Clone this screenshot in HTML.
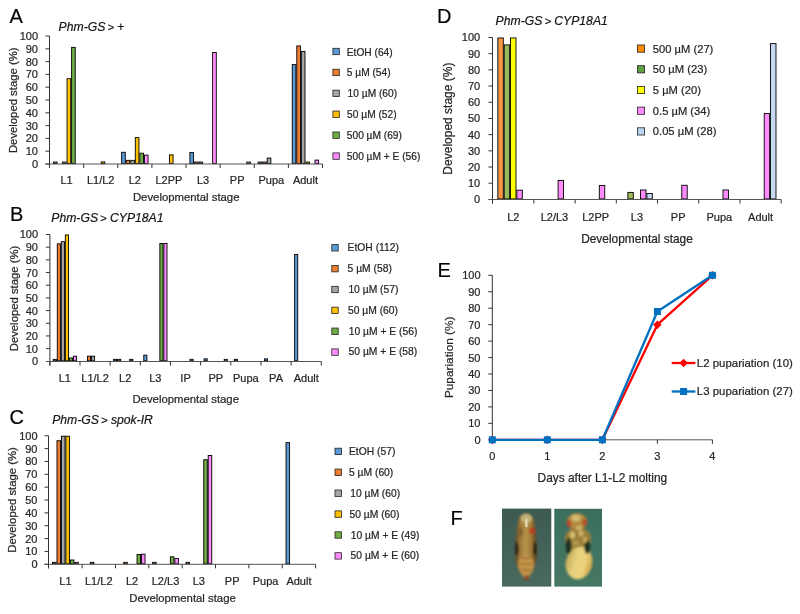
<!DOCTYPE html>
<html><head><meta charset="utf-8"><style>
html,body{margin:0;padding:0;background:#fff;}
svg{display:block;font-family:"Liberation Sans", sans-serif;filter:blur(0.3px);}
text{stroke:#262626;stroke-width:0.22px;}
</style></head><body>
<svg width="800" height="614" viewBox="0 0 800 614">
<rect width="800" height="614" fill="#fff"/>
<text x="9.50" y="23.00" font-size="20" text-anchor="start" fill="#000" >A</text>
<text x="58.6" y="30.8" font-size="12.2" fill="#111"><tspan font-style="italic">Phm-GS</tspan><tspan dx="-0.8" font-size="11.2"> &gt; </tspan>+</text>
<rect x="53.41" y="162.05" width="3.65" height="1.50" fill="#5B9BD5" stroke="#000" stroke-width="0.9"/>
<rect x="62.51" y="162.05" width="3.65" height="1.50" fill="#A5A5A5" stroke="#000" stroke-width="0.9"/>
<rect x="67.06" y="78.69" width="3.65" height="84.86" fill="#FFC000" stroke="#000" stroke-width="0.9"/>
<rect x="71.61" y="47.33" width="3.65" height="116.22" fill="#70AD47" stroke="#000" stroke-width="0.9"/>
<rect x="101.18" y="161.89" width="3.65" height="1.66" fill="#FFC000" stroke="#000" stroke-width="0.9"/>
<rect x="121.65" y="152.29" width="3.65" height="11.26" fill="#5B9BD5" stroke="#000" stroke-width="0.9"/>
<rect x="126.20" y="160.35" width="3.65" height="3.20" fill="#ED7D31" stroke="#000" stroke-width="0.9"/>
<rect x="130.75" y="160.35" width="3.65" height="3.20" fill="#A5A5A5" stroke="#000" stroke-width="0.9"/>
<rect x="135.30" y="137.57" width="3.65" height="25.98" fill="#FFC000" stroke="#000" stroke-width="0.9"/>
<rect x="139.85" y="153.19" width="3.65" height="10.36" fill="#70AD47" stroke="#000" stroke-width="0.9"/>
<rect x="144.40" y="155.11" width="3.65" height="8.44" fill="#FF8CFF" stroke="#000" stroke-width="0.9"/>
<rect x="169.42" y="154.85" width="3.65" height="8.70" fill="#FFC000" stroke="#000" stroke-width="0.9"/>
<rect x="189.89" y="152.42" width="3.65" height="11.13" fill="#5B9BD5" stroke="#000" stroke-width="0.9"/>
<rect x="194.44" y="162.05" width="3.65" height="1.50" fill="#ED7D31" stroke="#000" stroke-width="0.9"/>
<rect x="198.99" y="162.05" width="3.65" height="1.50" fill="#A5A5A5" stroke="#000" stroke-width="0.9"/>
<rect x="212.63" y="52.45" width="3.65" height="111.10" fill="#FF8CFF" stroke="#000" stroke-width="0.9"/>
<rect x="246.75" y="162.05" width="3.65" height="1.50" fill="#FF8CFF" stroke="#000" stroke-width="0.9"/>
<rect x="258.12" y="162.05" width="3.65" height="1.50" fill="#5B9BD5" stroke="#000" stroke-width="0.9"/>
<rect x="262.67" y="162.05" width="3.65" height="1.50" fill="#ED7D31" stroke="#000" stroke-width="0.9"/>
<rect x="267.22" y="158.05" width="3.65" height="5.50" fill="#A5A5A5" stroke="#000" stroke-width="0.9"/>
<rect x="292.24" y="64.61" width="3.65" height="98.94" fill="#5B9BD5" stroke="#000" stroke-width="0.9"/>
<rect x="296.79" y="45.92" width="3.65" height="117.63" fill="#ED7D31" stroke="#000" stroke-width="0.9"/>
<rect x="301.34" y="51.43" width="3.65" height="112.12" fill="#A5A5A5" stroke="#000" stroke-width="0.9"/>
<rect x="305.89" y="162.05" width="3.65" height="1.50" fill="#FFC000" stroke="#000" stroke-width="0.9"/>
<rect x="314.99" y="160.10" width="3.65" height="3.45" fill="#FF8CFF" stroke="#000" stroke-width="0.9"/>
<line x1="49.50" y1="36.00" x2="49.50" y2="168.00" stroke="#333" stroke-width="1"/>
<line x1="45.50" y1="164.00" x2="49.50" y2="164.00" stroke="#333" stroke-width="1"/>
<text x="38.00" y="167.96" font-size="11" text-anchor="end" fill="#262626" >0</text>
<line x1="45.50" y1="151.20" x2="49.50" y2="151.20" stroke="#333" stroke-width="1"/>
<text x="38.00" y="155.16" font-size="11" text-anchor="end" fill="#262626" >10</text>
<line x1="45.50" y1="138.40" x2="49.50" y2="138.40" stroke="#333" stroke-width="1"/>
<text x="38.00" y="142.36" font-size="11" text-anchor="end" fill="#262626" >20</text>
<line x1="45.50" y1="125.60" x2="49.50" y2="125.60" stroke="#333" stroke-width="1"/>
<text x="38.00" y="129.56" font-size="11" text-anchor="end" fill="#262626" >30</text>
<line x1="45.50" y1="112.80" x2="49.50" y2="112.80" stroke="#333" stroke-width="1"/>
<text x="38.00" y="116.76" font-size="11" text-anchor="end" fill="#262626" >40</text>
<line x1="45.50" y1="100.00" x2="49.50" y2="100.00" stroke="#333" stroke-width="1"/>
<text x="38.00" y="103.96" font-size="11" text-anchor="end" fill="#262626" >50</text>
<line x1="45.50" y1="87.20" x2="49.50" y2="87.20" stroke="#333" stroke-width="1"/>
<text x="38.00" y="91.16" font-size="11" text-anchor="end" fill="#262626" >60</text>
<line x1="45.50" y1="74.40" x2="49.50" y2="74.40" stroke="#333" stroke-width="1"/>
<text x="38.00" y="78.36" font-size="11" text-anchor="end" fill="#262626" >70</text>
<line x1="45.50" y1="61.60" x2="49.50" y2="61.60" stroke="#333" stroke-width="1"/>
<text x="38.00" y="65.56" font-size="11" text-anchor="end" fill="#262626" >80</text>
<line x1="45.50" y1="48.80" x2="49.50" y2="48.80" stroke="#333" stroke-width="1"/>
<text x="38.00" y="52.76" font-size="11" text-anchor="end" fill="#262626" >90</text>
<line x1="45.50" y1="36.00" x2="49.50" y2="36.00" stroke="#333" stroke-width="1"/>
<text x="38.00" y="39.96" font-size="11" text-anchor="end" fill="#262626" >100</text>
<line x1="45.50" y1="164.00" x2="322.50" y2="164.00" stroke="#555" stroke-width="1"/>
<line x1="49.50" y1="164.00" x2="49.50" y2="168.00" stroke="#333" stroke-width="1"/>
<line x1="83.67" y1="164.00" x2="83.67" y2="168.00" stroke="#333" stroke-width="1"/>
<line x1="117.79" y1="164.00" x2="117.79" y2="168.00" stroke="#333" stroke-width="1"/>
<line x1="151.91" y1="164.00" x2="151.91" y2="168.00" stroke="#333" stroke-width="1"/>
<line x1="186.02" y1="164.00" x2="186.02" y2="168.00" stroke="#333" stroke-width="1"/>
<line x1="220.14" y1="164.00" x2="220.14" y2="168.00" stroke="#333" stroke-width="1"/>
<line x1="254.26" y1="164.00" x2="254.26" y2="168.00" stroke="#333" stroke-width="1"/>
<line x1="288.38" y1="164.00" x2="288.38" y2="168.00" stroke="#333" stroke-width="1"/>
<line x1="322.50" y1="164.00" x2="322.50" y2="168.00" stroke="#333" stroke-width="1"/>
<text x="66.61" y="184.00" font-size="11" text-anchor="middle" fill="#262626" >L1</text>
<text x="100.73" y="184.00" font-size="11" text-anchor="middle" fill="#262626" >L1/L2</text>
<text x="134.85" y="184.00" font-size="11" text-anchor="middle" fill="#262626" >L2</text>
<text x="168.97" y="184.00" font-size="11" text-anchor="middle" fill="#262626" >L2PP</text>
<text x="203.08" y="184.00" font-size="11" text-anchor="middle" fill="#262626" >L3</text>
<text x="237.20" y="184.00" font-size="11" text-anchor="middle" fill="#262626" >PP</text>
<text x="271.32" y="184.00" font-size="11" text-anchor="middle" fill="#262626" >Pupa</text>
<text x="305.44" y="184.00" font-size="11" text-anchor="middle" fill="#262626" >Adult</text>
<text x="186.20" y="201.30" font-size="11.35" text-anchor="middle" fill="#262626" >Developmental stage</text>
<text x="0" y="0" font-size="11.3" text-anchor="middle" fill="#262626" transform="translate(16.60,100.30) rotate(-90)">Developed stage (%)</text>
<rect x="332.90" y="48.30" width="6.40" height="6.40" fill="#5B9BD5" stroke="#222" stroke-width="0.8"/>
<text x="346.80" y="55.50" font-size="10.2" text-anchor="start" fill="#262626" >EtOH (64)</text>
<rect x="332.90" y="69.22" width="6.40" height="6.40" fill="#ED7D31" stroke="#222" stroke-width="0.8"/>
<text x="346.80" y="76.42" font-size="10.2" text-anchor="start" fill="#262626" >5 µM (54)</text>
<rect x="332.90" y="90.14" width="6.40" height="6.40" fill="#A5A5A5" stroke="#222" stroke-width="0.8"/>
<text x="347.60" y="97.34" font-size="10.2" text-anchor="start" fill="#262626" >10 µM (60)</text>
<rect x="332.90" y="111.06" width="6.40" height="6.40" fill="#FFC000" stroke="#222" stroke-width="0.8"/>
<text x="347.10" y="118.26" font-size="10.2" text-anchor="start" fill="#262626" >50 µM (52)</text>
<rect x="332.90" y="131.98" width="6.40" height="6.40" fill="#70AD47" stroke="#222" stroke-width="0.8"/>
<text x="346.80" y="139.18" font-size="10.2" text-anchor="start" fill="#262626" >500 µM (69)</text>
<rect x="332.90" y="152.90" width="6.40" height="6.40" fill="#FF8CFF" stroke="#222" stroke-width="0.8"/>
<text x="346.80" y="160.10" font-size="10.2" text-anchor="start" fill="#262626" >500 µM + E (56)</text>
<text x="10.00" y="221.00" font-size="20" text-anchor="start" fill="#000" >B</text>
<text x="51.3" y="221.6" font-size="12.2" fill="#111"><tspan font-style="italic">Phm-GS</tspan><tspan dx="-0.8" font-size="11.2"> &gt; </tspan><tspan font-style="italic">CYP18A1</tspan></text>
<rect x="53.27" y="359.35" width="3.12" height="1.50" fill="#5B9BD5" stroke="#000" stroke-width="0.9"/>
<rect x="57.29" y="243.83" width="3.12" height="117.02" fill="#ED7D31" stroke="#000" stroke-width="0.9"/>
<rect x="61.31" y="241.67" width="3.12" height="119.18" fill="#A5A5A5" stroke="#000" stroke-width="0.9"/>
<rect x="65.33" y="234.95" width="3.12" height="125.90" fill="#FFC000" stroke="#000" stroke-width="0.9"/>
<rect x="69.36" y="357.95" width="3.12" height="2.90" fill="#70AD47" stroke="#000" stroke-width="0.9"/>
<rect x="73.38" y="356.17" width="3.12" height="4.68" fill="#FF8CFF" stroke="#000" stroke-width="0.9"/>
<rect x="87.46" y="356.17" width="3.12" height="4.68" fill="#ED7D31" stroke="#000" stroke-width="0.9"/>
<rect x="91.48" y="356.17" width="3.12" height="4.68" fill="#A5A5A5" stroke="#000" stroke-width="0.9"/>
<rect x="113.60" y="359.35" width="3.12" height="1.50" fill="#5B9BD5" stroke="#000" stroke-width="0.9"/>
<rect x="117.62" y="359.35" width="3.12" height="1.50" fill="#ED7D31" stroke="#000" stroke-width="0.9"/>
<rect x="129.69" y="359.35" width="3.12" height="1.50" fill="#70AD47" stroke="#000" stroke-width="0.9"/>
<rect x="143.77" y="355.16" width="3.12" height="5.69" fill="#5B9BD5" stroke="#000" stroke-width="0.9"/>
<rect x="159.86" y="243.45" width="3.12" height="117.40" fill="#70AD47" stroke="#000" stroke-width="0.9"/>
<rect x="163.88" y="243.45" width="3.12" height="117.40" fill="#FF8CFF" stroke="#000" stroke-width="0.9"/>
<rect x="190.02" y="359.35" width="3.12" height="1.50" fill="#70AD47" stroke="#000" stroke-width="0.9"/>
<rect x="204.10" y="358.83" width="3.12" height="2.02" fill="#5B9BD5" stroke="#000" stroke-width="0.9"/>
<rect x="224.21" y="359.35" width="3.12" height="1.50" fill="#FF8CFF" stroke="#000" stroke-width="0.9"/>
<rect x="234.27" y="359.35" width="3.12" height="1.50" fill="#5B9BD5" stroke="#000" stroke-width="0.9"/>
<rect x="264.43" y="358.83" width="3.12" height="2.02" fill="#5B9BD5" stroke="#000" stroke-width="0.9"/>
<rect x="294.60" y="254.48" width="3.12" height="106.37" fill="#5B9BD5" stroke="#000" stroke-width="0.9"/>
<line x1="49.90" y1="234.50" x2="49.90" y2="365.50" stroke="#333" stroke-width="1"/>
<line x1="45.90" y1="361.50" x2="49.90" y2="361.50" stroke="#333" stroke-width="1"/>
<text x="38.00" y="365.46" font-size="11" text-anchor="end" fill="#262626" >0</text>
<line x1="45.90" y1="348.62" x2="49.90" y2="348.62" stroke="#333" stroke-width="1"/>
<text x="38.00" y="352.58" font-size="11" text-anchor="end" fill="#262626" >10</text>
<line x1="45.90" y1="335.94" x2="49.90" y2="335.94" stroke="#333" stroke-width="1"/>
<text x="38.00" y="339.90" font-size="11" text-anchor="end" fill="#262626" >20</text>
<line x1="45.90" y1="323.26" x2="49.90" y2="323.26" stroke="#333" stroke-width="1"/>
<text x="38.00" y="327.22" font-size="11" text-anchor="end" fill="#262626" >30</text>
<line x1="45.90" y1="310.58" x2="49.90" y2="310.58" stroke="#333" stroke-width="1"/>
<text x="38.00" y="314.54" font-size="11" text-anchor="end" fill="#262626" >40</text>
<line x1="45.90" y1="297.90" x2="49.90" y2="297.90" stroke="#333" stroke-width="1"/>
<text x="38.00" y="301.86" font-size="11" text-anchor="end" fill="#262626" >50</text>
<line x1="45.90" y1="285.22" x2="49.90" y2="285.22" stroke="#333" stroke-width="1"/>
<text x="38.00" y="289.18" font-size="11" text-anchor="end" fill="#262626" >60</text>
<line x1="45.90" y1="272.54" x2="49.90" y2="272.54" stroke="#333" stroke-width="1"/>
<text x="38.00" y="276.50" font-size="11" text-anchor="end" fill="#262626" >70</text>
<line x1="45.90" y1="259.86" x2="49.90" y2="259.86" stroke="#333" stroke-width="1"/>
<text x="38.00" y="263.82" font-size="11" text-anchor="end" fill="#262626" >80</text>
<line x1="45.90" y1="247.18" x2="49.90" y2="247.18" stroke="#333" stroke-width="1"/>
<text x="38.00" y="251.14" font-size="11" text-anchor="end" fill="#262626" >90</text>
<line x1="45.90" y1="234.50" x2="49.90" y2="234.50" stroke="#333" stroke-width="1"/>
<text x="38.00" y="238.46" font-size="11" text-anchor="end" fill="#262626" >100</text>
<line x1="45.90" y1="361.50" x2="321.30" y2="361.50" stroke="#555" stroke-width="1"/>
<line x1="49.90" y1="361.50" x2="49.90" y2="365.50" stroke="#333" stroke-width="1"/>
<line x1="79.97" y1="361.50" x2="79.97" y2="365.50" stroke="#333" stroke-width="1"/>
<line x1="110.13" y1="361.50" x2="110.13" y2="365.50" stroke="#333" stroke-width="1"/>
<line x1="140.30" y1="361.50" x2="140.30" y2="365.50" stroke="#333" stroke-width="1"/>
<line x1="170.47" y1="361.50" x2="170.47" y2="365.50" stroke="#333" stroke-width="1"/>
<line x1="200.63" y1="361.50" x2="200.63" y2="365.50" stroke="#333" stroke-width="1"/>
<line x1="230.80" y1="361.50" x2="230.80" y2="365.50" stroke="#333" stroke-width="1"/>
<line x1="260.97" y1="361.50" x2="260.97" y2="365.50" stroke="#333" stroke-width="1"/>
<line x1="291.13" y1="361.50" x2="291.13" y2="365.50" stroke="#333" stroke-width="1"/>
<line x1="321.30" y1="361.50" x2="321.30" y2="365.50" stroke="#333" stroke-width="1"/>
<text x="64.88" y="382.30" font-size="11" text-anchor="middle" fill="#262626" >L1</text>
<text x="95.05" y="382.30" font-size="11" text-anchor="middle" fill="#262626" >L1/L2</text>
<text x="125.22" y="382.30" font-size="11" text-anchor="middle" fill="#262626" >L2</text>
<text x="155.38" y="382.30" font-size="11" text-anchor="middle" fill="#262626" >L3</text>
<text x="185.55" y="382.30" font-size="11" text-anchor="middle" fill="#262626" >IP</text>
<text x="215.72" y="382.30" font-size="11" text-anchor="middle" fill="#262626" >PP</text>
<text x="245.88" y="382.30" font-size="11" text-anchor="middle" fill="#262626" >Pupa</text>
<text x="276.05" y="382.30" font-size="11" text-anchor="middle" fill="#262626" >PA</text>
<text x="306.22" y="382.30" font-size="11" text-anchor="middle" fill="#262626" >Adult</text>
<text x="185.70" y="402.60" font-size="11.35" text-anchor="middle" fill="#262626" >Developmental stage</text>
<text x="0" y="0" font-size="11.3" text-anchor="middle" fill="#262626" transform="translate(17.70,298.50) rotate(-90)">Developed stage (%)</text>
<rect x="331.80" y="244.60" width="6.40" height="6.40" fill="#5B9BD5" stroke="#222" stroke-width="0.8"/>
<text x="347.60" y="251.10" font-size="10.3" text-anchor="start" fill="#262626" >EtOH (112)</text>
<rect x="331.80" y="265.46" width="6.40" height="6.40" fill="#ED7D31" stroke="#222" stroke-width="0.8"/>
<text x="347.60" y="271.96" font-size="10.3" text-anchor="start" fill="#262626" >5 µM (58)</text>
<rect x="331.80" y="286.32" width="6.40" height="6.40" fill="#A5A5A5" stroke="#222" stroke-width="0.8"/>
<text x="348.40" y="292.82" font-size="10.3" text-anchor="start" fill="#262626" >10 µM (57)</text>
<rect x="331.80" y="307.18" width="6.40" height="6.40" fill="#FFC000" stroke="#222" stroke-width="0.8"/>
<text x="348.00" y="313.68" font-size="10.3" text-anchor="start" fill="#262626" >50 µM (60)</text>
<rect x="331.80" y="328.04" width="6.40" height="6.40" fill="#70AD47" stroke="#222" stroke-width="0.8"/>
<text x="348.80" y="334.54" font-size="10.3" text-anchor="start" fill="#262626" >10 µM + E (56)</text>
<rect x="331.80" y="348.90" width="6.40" height="6.40" fill="#FF8CFF" stroke="#222" stroke-width="0.8"/>
<text x="348.60" y="355.40" font-size="10.3" text-anchor="start" fill="#262626" >50 µM + E (58)</text>
<text x="9.50" y="423.60" font-size="20" text-anchor="start" fill="#000" >C</text>
<text x="52.2" y="423.7" font-size="12.2" fill="#111"><tspan font-style="italic">Phm-GS</tspan><tspan dx="-0.8" font-size="11.2"> &gt; </tspan><tspan font-style="italic">spok-IR</tspan></text>
<rect x="52.54" y="562.35" width="3.55" height="1.50" fill="#5B9BD5" stroke="#000" stroke-width="0.9"/>
<rect x="56.98" y="440.70" width="3.55" height="123.15" fill="#ED7D31" stroke="#000" stroke-width="0.9"/>
<rect x="61.43" y="436.20" width="3.55" height="127.65" fill="#A5A5A5" stroke="#000" stroke-width="0.9"/>
<rect x="65.88" y="436.20" width="3.55" height="127.65" fill="#FFC000" stroke="#000" stroke-width="0.9"/>
<rect x="70.33" y="559.99" width="3.55" height="3.86" fill="#70AD47" stroke="#000" stroke-width="0.9"/>
<rect x="74.77" y="562.35" width="3.55" height="1.50" fill="#FF8CFF" stroke="#000" stroke-width="0.9"/>
<rect x="90.34" y="562.35" width="3.55" height="1.50" fill="#ED7D31" stroke="#000" stroke-width="0.9"/>
<rect x="123.70" y="562.35" width="3.55" height="1.50" fill="#ED7D31" stroke="#000" stroke-width="0.9"/>
<rect x="137.04" y="554.47" width="3.55" height="9.38" fill="#70AD47" stroke="#000" stroke-width="0.9"/>
<rect x="141.49" y="554.21" width="3.55" height="9.64" fill="#FF8CFF" stroke="#000" stroke-width="0.9"/>
<rect x="152.60" y="562.35" width="3.55" height="1.50" fill="#5B9BD5" stroke="#000" stroke-width="0.9"/>
<rect x="170.39" y="556.78" width="3.55" height="7.07" fill="#70AD47" stroke="#000" stroke-width="0.9"/>
<rect x="174.84" y="558.58" width="3.55" height="5.27" fill="#FF8CFF" stroke="#000" stroke-width="0.9"/>
<rect x="185.96" y="562.35" width="3.55" height="1.50" fill="#5B9BD5" stroke="#000" stroke-width="0.9"/>
<rect x="203.75" y="459.72" width="3.55" height="104.13" fill="#70AD47" stroke="#000" stroke-width="0.9"/>
<rect x="208.20" y="455.48" width="3.55" height="108.37" fill="#FF8CFF" stroke="#000" stroke-width="0.9"/>
<rect x="286.03" y="442.63" width="3.55" height="121.22" fill="#5B9BD5" stroke="#000" stroke-width="0.9"/>
<line x1="48.50" y1="435.75" x2="48.50" y2="568.30" stroke="#333" stroke-width="1"/>
<line x1="44.50" y1="564.30" x2="48.50" y2="564.30" stroke="#333" stroke-width="1"/>
<text x="37.50" y="568.26" font-size="11" text-anchor="end" fill="#262626" >0</text>
<line x1="44.50" y1="551.44" x2="48.50" y2="551.44" stroke="#333" stroke-width="1"/>
<text x="37.50" y="555.40" font-size="11" text-anchor="end" fill="#262626" >10</text>
<line x1="44.50" y1="538.59" x2="48.50" y2="538.59" stroke="#333" stroke-width="1"/>
<text x="37.50" y="542.55" font-size="11" text-anchor="end" fill="#262626" >20</text>
<line x1="44.50" y1="525.74" x2="48.50" y2="525.74" stroke="#333" stroke-width="1"/>
<text x="37.50" y="529.70" font-size="11" text-anchor="end" fill="#262626" >30</text>
<line x1="44.50" y1="512.88" x2="48.50" y2="512.88" stroke="#333" stroke-width="1"/>
<text x="37.50" y="516.84" font-size="11" text-anchor="end" fill="#262626" >40</text>
<line x1="44.50" y1="500.02" x2="48.50" y2="500.02" stroke="#333" stroke-width="1"/>
<text x="37.50" y="503.98" font-size="11" text-anchor="end" fill="#262626" >50</text>
<line x1="44.50" y1="487.17" x2="48.50" y2="487.17" stroke="#333" stroke-width="1"/>
<text x="37.50" y="491.13" font-size="11" text-anchor="end" fill="#262626" >60</text>
<line x1="44.50" y1="474.31" x2="48.50" y2="474.31" stroke="#333" stroke-width="1"/>
<text x="37.50" y="478.27" font-size="11" text-anchor="end" fill="#262626" >70</text>
<line x1="44.50" y1="461.46" x2="48.50" y2="461.46" stroke="#333" stroke-width="1"/>
<text x="37.50" y="465.42" font-size="11" text-anchor="end" fill="#262626" >80</text>
<line x1="44.50" y1="448.61" x2="48.50" y2="448.61" stroke="#333" stroke-width="1"/>
<text x="37.50" y="452.56" font-size="11" text-anchor="end" fill="#262626" >90</text>
<line x1="44.50" y1="435.75" x2="48.50" y2="435.75" stroke="#333" stroke-width="1"/>
<text x="37.50" y="439.71" font-size="11" text-anchor="end" fill="#262626" >100</text>
<line x1="44.50" y1="564.30" x2="315.60" y2="564.30" stroke="#555" stroke-width="1"/>
<line x1="48.50" y1="564.30" x2="48.50" y2="568.30" stroke="#333" stroke-width="1"/>
<line x1="82.11" y1="564.30" x2="82.11" y2="568.30" stroke="#333" stroke-width="1"/>
<line x1="115.46" y1="564.30" x2="115.46" y2="568.30" stroke="#333" stroke-width="1"/>
<line x1="148.82" y1="564.30" x2="148.82" y2="568.30" stroke="#333" stroke-width="1"/>
<line x1="182.18" y1="564.30" x2="182.18" y2="568.30" stroke="#333" stroke-width="1"/>
<line x1="215.53" y1="564.30" x2="215.53" y2="568.30" stroke="#333" stroke-width="1"/>
<line x1="248.89" y1="564.30" x2="248.89" y2="568.30" stroke="#333" stroke-width="1"/>
<line x1="282.24" y1="564.30" x2="282.24" y2="568.30" stroke="#333" stroke-width="1"/>
<line x1="315.60" y1="564.30" x2="315.60" y2="568.30" stroke="#333" stroke-width="1"/>
<text x="65.43" y="584.70" font-size="11" text-anchor="middle" fill="#262626" >L1</text>
<text x="98.78" y="584.70" font-size="11" text-anchor="middle" fill="#262626" >L1/L2</text>
<text x="132.14" y="584.70" font-size="11" text-anchor="middle" fill="#262626" >L2</text>
<text x="165.50" y="584.70" font-size="11" text-anchor="middle" fill="#262626" >L2/L3</text>
<text x="198.85" y="584.70" font-size="11" text-anchor="middle" fill="#262626" >L3</text>
<text x="232.21" y="584.70" font-size="11" text-anchor="middle" fill="#262626" >PP</text>
<text x="265.57" y="584.70" font-size="11" text-anchor="middle" fill="#262626" >Pupa</text>
<text x="298.92" y="584.70" font-size="11" text-anchor="middle" fill="#262626" >Adult</text>
<text x="182.50" y="602.30" font-size="11.35" text-anchor="middle" fill="#262626" >Developmental stage</text>
<text x="0" y="0" font-size="11.3" text-anchor="middle" fill="#262626" transform="translate(16.20,500.02) rotate(-90)">Developed stage (%)</text>
<rect x="335.00" y="448.20" width="6.40" height="6.40" fill="#5B9BD5" stroke="#222" stroke-width="0.8"/>
<text x="349.00" y="454.90" font-size="10.3" text-anchor="start" fill="#262626" >EtOH (57)</text>
<rect x="335.00" y="469.10" width="6.40" height="6.40" fill="#ED7D31" stroke="#222" stroke-width="0.8"/>
<text x="349.00" y="475.80" font-size="10.3" text-anchor="start" fill="#262626" >5 µM (60)</text>
<rect x="335.00" y="490.00" width="6.40" height="6.40" fill="#A5A5A5" stroke="#222" stroke-width="0.8"/>
<text x="350.20" y="496.70" font-size="10.3" text-anchor="start" fill="#262626" >10 µM (60)</text>
<rect x="335.00" y="510.90" width="6.40" height="6.40" fill="#FFC000" stroke="#222" stroke-width="0.8"/>
<text x="349.50" y="517.60" font-size="10.3" text-anchor="start" fill="#262626" >50 µM (60)</text>
<rect x="335.00" y="531.80" width="6.40" height="6.40" fill="#70AD47" stroke="#222" stroke-width="0.8"/>
<text x="350.80" y="538.50" font-size="10.3" text-anchor="start" fill="#262626" >10 µM + E (49)</text>
<rect x="335.00" y="552.70" width="6.40" height="6.40" fill="#FF8CFF" stroke="#222" stroke-width="0.8"/>
<text x="350.60" y="559.40" font-size="10.3" text-anchor="start" fill="#262626" >50 µM + E (60)</text>
<text x="437.00" y="23.10" font-size="20" text-anchor="start" fill="#000" >D</text>
<text x="495.6" y="24.6" font-size="12.2" fill="#111"><tspan font-style="italic">Phm-GS</tspan><tspan dx="-0.8" font-size="11.2"> &gt; </tspan><tspan font-style="italic">CYP18A1</tspan></text>
<rect x="497.86" y="37.95" width="5.44" height="161.00" fill="#F79646" stroke="#000" stroke-width="0.9"/>
<rect x="504.20" y="44.91" width="5.44" height="154.04" fill="#9BBB59" stroke="#000" stroke-width="0.9"/>
<rect x="510.54" y="37.95" width="5.44" height="161.00" fill="#FFFF00" stroke="#000" stroke-width="0.9"/>
<rect x="516.88" y="190.14" width="5.44" height="8.81" fill="#FF8CFF" stroke="#000" stroke-width="0.9"/>
<rect x="558.10" y="180.42" width="5.44" height="18.53" fill="#FF8CFF" stroke="#000" stroke-width="0.9"/>
<rect x="599.32" y="185.44" width="5.44" height="13.51" fill="#FF8CFF" stroke="#000" stroke-width="0.9"/>
<rect x="627.86" y="192.40" width="5.44" height="6.55" fill="#9BBB59" stroke="#000" stroke-width="0.9"/>
<rect x="640.55" y="189.97" width="5.44" height="8.98" fill="#FF8CFF" stroke="#000" stroke-width="0.9"/>
<rect x="646.89" y="193.54" width="5.44" height="5.41" fill="#C6D9F1" stroke="#000" stroke-width="0.9"/>
<rect x="681.77" y="185.28" width="5.44" height="13.67" fill="#FF8CFF" stroke="#000" stroke-width="0.9"/>
<rect x="722.99" y="189.97" width="5.44" height="8.98" fill="#FF8CFF" stroke="#000" stroke-width="0.9"/>
<rect x="764.21" y="113.56" width="5.44" height="85.39" fill="#FF8CFF" stroke="#000" stroke-width="0.9"/>
<rect x="770.55" y="43.62" width="5.44" height="155.33" fill="#C6D9F1" stroke="#000" stroke-width="0.9"/>
<line x1="492.50" y1="37.50" x2="492.50" y2="203.50" stroke="#333" stroke-width="1"/>
<line x1="488.50" y1="199.50" x2="492.50" y2="199.50" stroke="#333" stroke-width="1"/>
<text x="480.20" y="203.46" font-size="11" text-anchor="end" fill="#262626" >0</text>
<line x1="488.50" y1="183.21" x2="492.50" y2="183.21" stroke="#333" stroke-width="1"/>
<text x="480.20" y="187.17" font-size="11" text-anchor="end" fill="#262626" >10</text>
<line x1="488.50" y1="167.02" x2="492.50" y2="167.02" stroke="#333" stroke-width="1"/>
<text x="480.20" y="170.98" font-size="11" text-anchor="end" fill="#262626" >20</text>
<line x1="488.50" y1="150.83" x2="492.50" y2="150.83" stroke="#333" stroke-width="1"/>
<text x="480.20" y="154.79" font-size="11" text-anchor="end" fill="#262626" >30</text>
<line x1="488.50" y1="134.64" x2="492.50" y2="134.64" stroke="#333" stroke-width="1"/>
<text x="480.20" y="138.60" font-size="11" text-anchor="end" fill="#262626" >40</text>
<line x1="488.50" y1="118.45" x2="492.50" y2="118.45" stroke="#333" stroke-width="1"/>
<text x="480.20" y="122.41" font-size="11" text-anchor="end" fill="#262626" >50</text>
<line x1="488.50" y1="102.26" x2="492.50" y2="102.26" stroke="#333" stroke-width="1"/>
<text x="480.20" y="106.22" font-size="11" text-anchor="end" fill="#262626" >60</text>
<line x1="488.50" y1="86.07" x2="492.50" y2="86.07" stroke="#333" stroke-width="1"/>
<text x="480.20" y="90.03" font-size="11" text-anchor="end" fill="#262626" >70</text>
<line x1="488.50" y1="69.88" x2="492.50" y2="69.88" stroke="#333" stroke-width="1"/>
<text x="480.20" y="73.84" font-size="11" text-anchor="end" fill="#262626" >80</text>
<line x1="488.50" y1="53.69" x2="492.50" y2="53.69" stroke="#333" stroke-width="1"/>
<text x="480.20" y="57.65" font-size="11" text-anchor="end" fill="#262626" >90</text>
<line x1="488.50" y1="37.50" x2="492.50" y2="37.50" stroke="#333" stroke-width="1"/>
<text x="480.20" y="41.46" font-size="11" text-anchor="end" fill="#262626" >100</text>
<line x1="488.50" y1="199.50" x2="781.20" y2="199.50" stroke="#555" stroke-width="1"/>
<line x1="492.50" y1="199.50" x2="492.50" y2="203.50" stroke="#333" stroke-width="1"/>
<line x1="533.87" y1="199.50" x2="533.87" y2="203.50" stroke="#333" stroke-width="1"/>
<line x1="575.09" y1="199.50" x2="575.09" y2="203.50" stroke="#333" stroke-width="1"/>
<line x1="616.31" y1="199.50" x2="616.31" y2="203.50" stroke="#333" stroke-width="1"/>
<line x1="657.54" y1="199.50" x2="657.54" y2="203.50" stroke="#333" stroke-width="1"/>
<line x1="698.76" y1="199.50" x2="698.76" y2="203.50" stroke="#333" stroke-width="1"/>
<line x1="739.98" y1="199.50" x2="739.98" y2="203.50" stroke="#333" stroke-width="1"/>
<line x1="781.20" y1="199.50" x2="781.20" y2="203.50" stroke="#333" stroke-width="1"/>
<text x="513.26" y="220.60" font-size="11" text-anchor="middle" fill="#262626" >L2</text>
<text x="554.48" y="220.60" font-size="11" text-anchor="middle" fill="#262626" >L2/L3</text>
<text x="595.70" y="220.60" font-size="11" text-anchor="middle" fill="#262626" >L2PP</text>
<text x="636.92" y="220.60" font-size="11" text-anchor="middle" fill="#262626" >L3</text>
<text x="678.15" y="220.60" font-size="11" text-anchor="middle" fill="#262626" >PP</text>
<text x="719.37" y="220.60" font-size="11" text-anchor="middle" fill="#262626" >Pupa</text>
<text x="760.59" y="220.60" font-size="11" text-anchor="middle" fill="#262626" >Adult</text>
<text x="637.00" y="242.60" font-size="11.9" text-anchor="middle" fill="#262626" >Developmental stage</text>
<text x="0" y="0" font-size="12" text-anchor="middle" fill="#262626" transform="translate(452.00,118.60) rotate(-90)">Developed stage (%)</text>
<rect x="637.40" y="45.00" width="7.20" height="7.20" fill="#FF8C00" stroke="#222" stroke-width="0.8"/>
<text x="652.80" y="52.60" font-size="11.2" text-anchor="start" fill="#262626" >500 µM (27)</text>
<rect x="637.40" y="65.70" width="7.20" height="7.20" fill="#5FA040" stroke="#222" stroke-width="0.8"/>
<text x="652.80" y="73.30" font-size="11.2" text-anchor="start" fill="#262626" >50 µM (23)</text>
<rect x="637.40" y="86.40" width="7.20" height="7.20" fill="#FFFF00" stroke="#222" stroke-width="0.8"/>
<text x="652.80" y="94.00" font-size="11.2" text-anchor="start" fill="#262626" >5 µM (20)</text>
<rect x="637.40" y="107.10" width="7.20" height="7.20" fill="#FF8CFF" stroke="#222" stroke-width="0.8"/>
<text x="652.80" y="114.70" font-size="11.2" text-anchor="start" fill="#262626" >0.5 µM (34)</text>
<rect x="637.40" y="127.80" width="7.20" height="7.20" fill="#B8D4F0" stroke="#222" stroke-width="0.8"/>
<text x="652.80" y="135.40" font-size="11.2" text-anchor="start" fill="#262626" >0.05 µM (28)</text>
<text x="437.50" y="276.70" font-size="20" text-anchor="start" fill="#000" >E</text>
<line x1="492.30" y1="275.30" x2="492.30" y2="439.80" stroke="#333" stroke-width="1"/>
<line x1="488.30" y1="439.80" x2="492.30" y2="439.80" stroke="#333" stroke-width="1"/>
<text x="480.50" y="443.76" font-size="11" text-anchor="end" fill="#262626" >0</text>
<line x1="488.30" y1="423.35" x2="492.30" y2="423.35" stroke="#333" stroke-width="1"/>
<text x="480.50" y="427.31" font-size="11" text-anchor="end" fill="#262626" >10</text>
<line x1="488.30" y1="406.90" x2="492.30" y2="406.90" stroke="#333" stroke-width="1"/>
<text x="480.50" y="410.86" font-size="11" text-anchor="end" fill="#262626" >20</text>
<line x1="488.30" y1="390.45" x2="492.30" y2="390.45" stroke="#333" stroke-width="1"/>
<text x="480.50" y="394.41" font-size="11" text-anchor="end" fill="#262626" >30</text>
<line x1="488.30" y1="374.00" x2="492.30" y2="374.00" stroke="#333" stroke-width="1"/>
<text x="480.50" y="377.96" font-size="11" text-anchor="end" fill="#262626" >40</text>
<line x1="488.30" y1="357.55" x2="492.30" y2="357.55" stroke="#333" stroke-width="1"/>
<text x="480.50" y="361.51" font-size="11" text-anchor="end" fill="#262626" >50</text>
<line x1="488.30" y1="341.10" x2="492.30" y2="341.10" stroke="#333" stroke-width="1"/>
<text x="480.50" y="345.06" font-size="11" text-anchor="end" fill="#262626" >60</text>
<line x1="488.30" y1="324.65" x2="492.30" y2="324.65" stroke="#333" stroke-width="1"/>
<text x="480.50" y="328.61" font-size="11" text-anchor="end" fill="#262626" >70</text>
<line x1="488.30" y1="308.20" x2="492.30" y2="308.20" stroke="#333" stroke-width="1"/>
<text x="480.50" y="312.16" font-size="11" text-anchor="end" fill="#262626" >80</text>
<line x1="488.30" y1="291.75" x2="492.30" y2="291.75" stroke="#333" stroke-width="1"/>
<text x="480.50" y="295.71" font-size="11" text-anchor="end" fill="#262626" >90</text>
<line x1="488.30" y1="275.30" x2="492.30" y2="275.30" stroke="#333" stroke-width="1"/>
<text x="480.50" y="279.26" font-size="11" text-anchor="end" fill="#262626" >100</text>
<line x1="492.30" y1="439.80" x2="712.42" y2="439.80" stroke="#555" stroke-width="1"/>
<line x1="492.30" y1="439.80" x2="492.30" y2="443.80" stroke="#333" stroke-width="1"/>
<text x="492.30" y="459.80" font-size="11" text-anchor="middle" fill="#262626" >0</text>
<line x1="547.33" y1="439.80" x2="547.33" y2="443.80" stroke="#333" stroke-width="1"/>
<text x="547.33" y="459.80" font-size="11" text-anchor="middle" fill="#262626" >1</text>
<line x1="602.36" y1="439.80" x2="602.36" y2="443.80" stroke="#333" stroke-width="1"/>
<text x="602.36" y="459.80" font-size="11" text-anchor="middle" fill="#262626" >2</text>
<line x1="657.39" y1="439.80" x2="657.39" y2="443.80" stroke="#333" stroke-width="1"/>
<text x="657.39" y="459.80" font-size="11" text-anchor="middle" fill="#262626" >3</text>
<line x1="712.42" y1="439.80" x2="712.42" y2="443.80" stroke="#333" stroke-width="1"/>
<text x="712.42" y="459.80" font-size="11" text-anchor="middle" fill="#262626" >4</text>
<text x="602.36" y="481.60" font-size="11.9" text-anchor="middle" fill="#262626" >Days after L1-L2 molting</text>
<text x="0" y="0" font-size="11.8" text-anchor="middle" fill="#262626" textLength="81.6" lengthAdjust="spacing" transform="translate(452.7,357.3) rotate(-90)">Pupariation (%)</text>
<polyline points="492.30,439.80 547.33,439.80 602.36,439.80 657.39,324.65 712.42,275.30" fill="none" stroke="#FF0000" stroke-width="2.3" stroke-linejoin="round"/>
<rect x="489.30" y="436.80" width="6" height="6" fill="#FF0000" transform="rotate(45 492.30 439.80)"/>
<rect x="544.33" y="436.80" width="6" height="6" fill="#FF0000" transform="rotate(45 547.33 439.80)"/>
<rect x="599.36" y="436.80" width="6" height="6" fill="#FF0000" transform="rotate(45 602.36 439.80)"/>
<rect x="654.39" y="321.65" width="6" height="6" fill="#FF0000" transform="rotate(45 657.39 324.65)"/>
<rect x="709.42" y="272.30" width="6" height="6" fill="#FF0000" transform="rotate(45 712.42 275.30)"/>
<polyline points="492.30,439.80 547.33,439.80 602.36,439.80 657.39,311.49 712.42,275.30" fill="none" stroke="#0070C0" stroke-width="2.3" stroke-linejoin="round"/>
<rect x="488.80" y="436.30" width="7" height="7" fill="#0070C0"/>
<rect x="543.83" y="436.30" width="7" height="7" fill="#0070C0"/>
<rect x="598.86" y="436.30" width="7" height="7" fill="#0070C0"/>
<rect x="653.89" y="307.99" width="7" height="7" fill="#0070C0"/>
<rect x="708.92" y="271.80" width="7" height="7" fill="#0070C0"/>
<line x1="671.70" y1="363.00" x2="695.40" y2="363.00" stroke="#FF0000" stroke-width="2.3"/>
<rect x="680.6" y="360" width="6" height="6" fill="#FF0000" transform="rotate(45 683.6 363)"/>
<text x="696.80" y="366.90" font-size="11.45" text-anchor="start" fill="#262626" >L2 pupariation (10)</text>
<line x1="671.70" y1="391.50" x2="695.40" y2="391.50" stroke="#0070C0" stroke-width="2.3"/>
<rect x="680.1" y="388" width="7" height="7" fill="#0070C0"/>
<text x="696.80" y="395.10" font-size="11.45" text-anchor="start" fill="#262626" >L3 pupariation (27)</text>
<text x="450.50" y="525.00" font-size="20" text-anchor="start" fill="#000" >F</text>

<defs>
<filter id="bl" x="-20%" y="-20%" width="140%" height="140%"><feGaussianBlur stdDeviation="0.9"/></filter>
<filter id="bl2" x="-20%" y="-20%" width="140%" height="140%"><feGaussianBlur stdDeviation="0.5"/></filter>
<clipPath id="cp1"><rect x="502" y="508.6" width="49.3" height="78"/></clipPath>
<clipPath id="cp2"><rect x="554.3" y="508.8" width="47.7" height="77.8"/></clipPath>
<linearGradient id="bg1" x1="0" y1="0" x2="0" y2="1"><stop offset="0" stop-color="#3c5a52"/><stop offset="1" stop-color="#4a6a60"/></linearGradient>
<linearGradient id="bg2" x1="0" y1="0" x2="0" y2="1"><stop offset="0" stop-color="#3c6e5e"/><stop offset="1" stop-color="#467864"/></linearGradient>
<linearGradient id="body1" x1="0" y1="0" x2="1" y2="0"><stop offset="0" stop-color="#5a4220"/><stop offset="0.25" stop-color="#a27e3e"/><stop offset="0.5" stop-color="#b8944e"/><stop offset="0.75" stop-color="#9c7836"/><stop offset="1" stop-color="#503c1a"/></linearGradient>
<linearGradient id="abd2" x1="0" y1="0" x2="1" y2="0"><stop offset="0" stop-color="#c4aa58"/><stop offset="0.35" stop-color="#e6d07c"/><stop offset="0.7" stop-color="#eed27a"/><stop offset="1" stop-color="#c8a44c"/></linearGradient>
</defs>
<rect x="502" y="508.6" width="49.3" height="78" fill="url(#bg1)"/>
<g clip-path="url(#cp1)"><g filter="url(#bl)">
<path d="M526,513.5 C520,513.5 518.5,518 518,523 C516,532 515,542 515,552 C515,563 519,574 526.5,580.5 C533,574 537,563 537,552 C537,542 536,532 534.5,523 C534,518 532,513.5 526,513.5 Z" fill="url(#body1)"/>
<ellipse cx="526.5" cy="518.5" rx="5.5" ry="4.5" fill="#c8b27c"/>
<ellipse cx="521" cy="532" rx="2" ry="5" fill="#6e5228" opacity="0.6"/>
<ellipse cx="516.8" cy="549" rx="1.8" ry="7" fill="#2e2414"/>
<ellipse cx="534.8" cy="549" rx="1.8" ry="7" fill="#2e2414"/>
<ellipse cx="526" cy="565" rx="8" ry="10" fill="#c49448"/>
<ellipse cx="526" cy="558" rx="6" ry="0.9" fill="#7a5a2a" opacity="0.5"/>
<ellipse cx="526" cy="564" rx="7" ry="0.9" fill="#7a5a2a" opacity="0.45"/>
<ellipse cx="526" cy="570" rx="6" ry="0.9" fill="#7a5a2a" opacity="0.45"/>
<ellipse cx="526.5" cy="578" rx="2.6" ry="2.4" fill="#8a4a28"/>
<ellipse cx="532.3" cy="530.8" rx="3" ry="3.2" fill="#b83e22"/>
</g>
<rect x="525.3" y="519" width="2.2" height="8" fill="#e6dcb8" filter="url(#bl2)"/>
</g>
<rect x="554.3" y="508.8" width="47.7" height="77.8" fill="url(#bg2)"/>
<g clip-path="url(#cp2)"><g filter="url(#bl)">
<ellipse cx="578" cy="539" rx="13" ry="12" fill="#9a7e38"/>
<ellipse cx="577" cy="521.5" rx="10.3" ry="8.3" fill="#b08a40"/>
<ellipse cx="569" cy="523.5" rx="2.3" ry="3.6" fill="#b84a26"/>
<ellipse cx="584.8" cy="522.5" rx="2.3" ry="3.4" fill="#b84a26"/>
<ellipse cx="576" cy="518" rx="4.5" ry="3.5" fill="#d4b870"/>
<ellipse cx="579" cy="528" rx="3" ry="2.5" fill="#cfb068"/>
<ellipse cx="579" cy="563" rx="13.2" ry="16.5" fill="url(#abd2)" transform="rotate(15 579 563)"/>
<ellipse cx="568.6" cy="546" rx="2.8" ry="8" fill="#1e3220"/>
<ellipse cx="587.3" cy="547" rx="2.9" ry="7" fill="#1e3220"/>
<ellipse cx="572.5" cy="535" rx="2.5" ry="3.5" fill="#d6be72"/>
<ellipse cx="581" cy="533.5" rx="2.5" ry="3" fill="#d0b468"/>
<ellipse cx="585" cy="540" rx="2" ry="3" fill="#c8ac5c"/>
<ellipse cx="576" cy="543" rx="3" ry="2.5" fill="#b89a4c"/>
</g></g>

</svg>
</body></html>
